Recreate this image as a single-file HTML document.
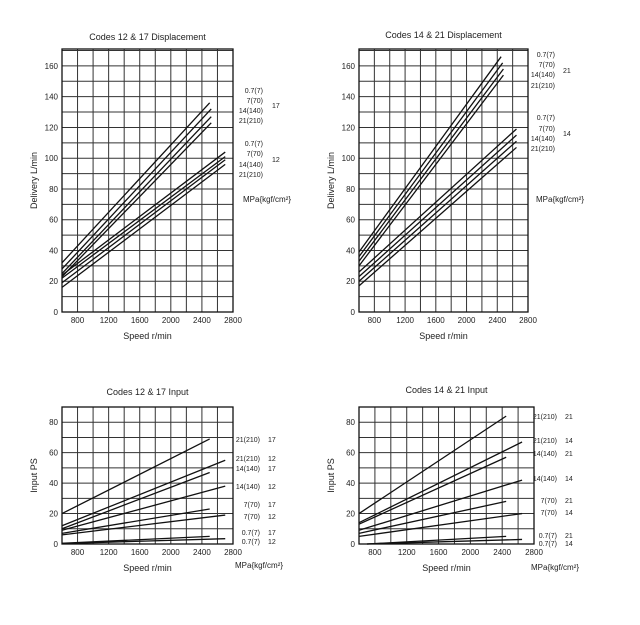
<!DOCTYPE html>
<html><head><meta charset="utf-8"><style>
body{margin:0;background:#fff;}
svg{display:block;font-family:"Liberation Sans",Arial,sans-serif;}
</style></head><body>
<svg id="s" width="640" height="625" viewBox="0 0 640 625" xmlns="http://www.w3.org/2000/svg"></svg>
<script>
const NS='http://www.w3.org/2000/svg';
const svg=document.getElementById('s');
// ---- data ----
const xTicks=[800,1200,1600,2000,2400,2800];
const dispYTicks=[0,20,40,60,80,100,120,140,160];
const inputYTicks=[0,20,40,60,80];
// displacement 12&17: [x0,y0,x1,y1]
const tl17=[[600,32,2500,136],[600,28,2520,132],[600,25,2520,127],[600,23,2520,123]];
const tl12=[[600,24,2700,104],[600,22,2700,101],[600,19,2700,99],[600,16,2700,96]];
const tr21=[[600,39,2450,166],[600,36,2470,162],[600,33,2480,158],[600,30,2480,154]];
const tr14=[[600,26,2650,119],[600,23,2650,115],[600,20,2650,111],[600,17,2650,107]];
const blLines=[[600,20,2500,69],[600,12,2700,55],[600,10,2500,47],[600,9,2700,38],[600,7,2500,23],[600,6,2700,19],[600,0.5,2500,5],[600,0.3,2700,3.5]];
const brLines=[[600,20,2450,84],[600,14,2650,67],[600,13,2450,57],[600,9,2650,42],[600,7,2450,28],[600,5,2650,20],[700,0,2450,5],[700,0,2650,3]];
const dispPress=['0.7(7)','7(70)','14(140)','21(210)'];
const blLabels=[['21(210)','17'],['21(210)','12'],['14(140)','17'],['14(140)','12'],['7(70)','17'],['7(70)','12'],['0.7(7)','17'],['0.7(7)','12']];
const brLabels=[['21(210)','21'],['21(210)','14'],['14(140)','21'],['14(140)','14'],['7(70)','21'],['7(70)','14'],['0.7(7)','21'],['0.7(7)','14']];

function mk(tag,attrs,parent){const e=document.createElementNS(NS,tag);for(const k in attrs)e.setAttribute(k,attrs[k]);(parent||svg).appendChild(e);return e;}
function txt(x,y,s,size,anchor,parent,name,rot){const t=mk('text',{x:x,y:y,'font-size':size,'text-anchor':anchor||'start',fill:'#222'},parent);if(rot)t.setAttribute('transform','rotate(-90 '+x+' '+y+')');t.textContent=s;

return t;}

function chart(o){
  const g=mk('g',{});
  
  
  const X=v=>o.L+(v-600)/2200*(o.R-o.L);
  const Y=v=>o.B-v/o.yMax*(o.B-o.T);
  // grid
  for(let v=800;v<2800;v+=200){const l=mk('line',{x1:X(v),x2:X(v),y1:o.T,y2:o.B,stroke:'#333','stroke-width':1},g);
    
    }
  for(let v=10;v<o.yMax;v+=10){const l=mk('line',{x1:o.L,x2:o.R,y1:Y(v),y2:Y(v),stroke:'#333','stroke-width':1},g);
    
    }
  const box=mk('rect',{x:o.L,y:o.T,width:o.R-o.L,height:o.B-o.T,fill:'none',stroke:'#111','stroke-width':1.3},g);
  
  
  o.yTicks.forEach(v=>txt(o.L-4,Y(v)+3,String(v),8,'end',g,'y-tick-label'));
  xTicks.forEach(v=>txt(X(v),o.B+11,String(v),8,'middle',g,'x-tick-label'));
  o.series.forEach(s=>{const l=mk('line',{x1:X(s[0]),y1:Y(s[1]),x2:X(s[2]),y2:Y(s[3]),stroke:'#111','stroke-width':1.3},g);
    
    });
  txt((o.L+o.R)/2,o.titleY,o.title,9,'middle',g,'chart-title');
  txt((o.L+o.R)/2,o.B+27,'Speed r/min',9,'middle',g,'x-axis-title');
  txt(o.L-25,(o.T+o.B)/2,o.yTitle,9,'middle',g,'y-axis-title',true);
  return g;
}
chart({name:'chart-12-17-displacement',L:62,R:233,T:49,B:312,yMax:171,yTicks:dispYTicks,series:tl17.concat(tl12),title:'Codes 12 & 17 Displacement',titleY:40,yTitle:'Delivery L/min'});
chart({name:'chart-14-21-displacement',L:359,R:528,T:49,B:312,yMax:171,yTicks:dispYTicks,series:tr21.concat(tr14),title:'Codes 14 & 21 Displacement',titleY:38,yTitle:'Delivery L/min'});
chart({name:'chart-12-17-input',L:62,R:233,T:407,B:544,yMax:90,yTicks:inputYTicks,series:blLines,title:'Codes 12 & 17 Input',titleY:395,yTitle:'Input PS'});
chart({name:'chart-14-21-input',L:359,R:534,T:407,B:544,yMax:90,yTicks:inputYTicks,series:brLines,title:'Codes 14 & 21 Input',titleY:393,yTitle:'Input PS'});

// displacement legends
const tlY=[90,100,110,120],tlY2=[143,153,164,174];
dispPress.forEach((p,i)=>{txt(263,tlY[i]+3,p,7,'end',null,'pressure-label');txt(263,tlY2[i]+3,p,7,'end',null,'pressure-label');});
txt(272,108,'17',7,'start',null,'code-label');txt(272,162,'12',7,'start',null,'code-label');
txt(243,202,'MPa{kgf/cm²}',8,'start',null,'unit-label');
const trY=[54,64,74,85],trY2=[117,128,138,148];
dispPress.forEach((p,i)=>{txt(555,trY[i]+3,p,7,'end',null,'pressure-label');txt(555,trY2[i]+3,p,7,'end',null,'pressure-label');});
txt(563,73,'21',7,'start',null,'code-label');txt(563,136,'14',7,'start',null,'code-label');
txt(536,202,'MPa{kgf/cm²}',8,'start',null,'unit-label');
const blY=[439,458,468,486,504,516,532,541];
blLabels.forEach((p,i)=>{txt(260,blY[i]+3,p[0],7,'end',null,'pressure-label');txt(268,blY[i]+3,p[1],7,'start',null,'code-label');});
txt(235,568,'MPa{kgf/cm²}',8,'start',null,'unit-label');
const brY=[416,440,453,478,500,512,535,543];
brLabels.forEach((p,i)=>{txt(557,brY[i]+3,p[0],7,'end',null,'pressure-label');txt(565,brY[i]+3,p[1],7,'start',null,'code-label');});
txt(531,570,'MPa{kgf/cm²}',8,'start',null,'unit-label');
</script>
</body></html>
